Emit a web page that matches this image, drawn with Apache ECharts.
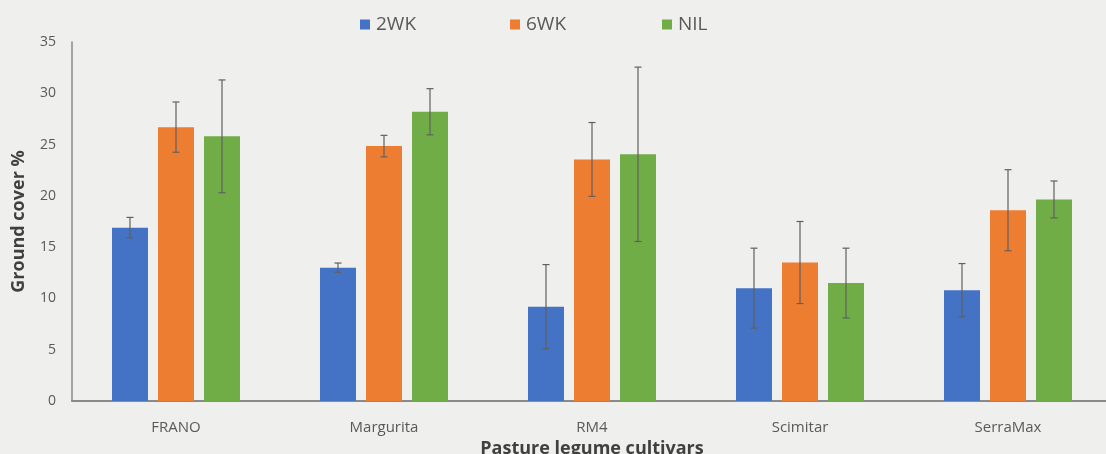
<!DOCTYPE html>
<html>
<head>
<meta charset="utf-8">
<script src="https://cdn.jsdelivr.net/npm/echarts@6/dist/echarts.min.js"></script>
<style>
html,body{margin:0;padding:0;background:#efefed;}
#chart{width:1106px;height:454px;}
</style>
</head>
<body>
<div id="chart"></div>
<script>
const categories = ['FRANO', 'Margurita', 'RM4', 'Scimitar', 'SerraMax'];
const seriesNames = ['2WK', '6WK', 'NIL'];
const wk2 = [16.9, 13.0, 9.2, 11.0, 10.8];
const wk2Err = [1.0, 0.45, 4.1, 3.9, 2.6];
const wk6 = [26.7, 24.85, 23.55, 13.5, 18.6];
const wk6Err = [2.45, 1.05, 3.6, 4.0, 3.95];
const nil = [25.8, 28.2, 24.05, 11.5, 19.65];
const nilErr = [5.5, 2.25, 8.5, 3.4, 1.8];
const yTicks = [0, 5, 10, 15, 20, 25, 30, 35];

const colors = ['#4472C4', '#ED7D31', '#70AD47'];
const values = [wk2, wk6, nil];
const errs = [wk2Err, wk6Err, nilErr];
const FONT = "'Open Sans', 'Noto Sans', sans-serif";
const BAR_W = 36, BAR_GAP = 10;

const chart = echarts.init(document.getElementById('chart'));

const barSeries = seriesNames.map((name, i) => ({
  name: name,
  type: 'bar',
  data: values[i],
  barWidth: BAR_W,
  barGap: (BAR_GAP / BAR_W * 100) + '%',
  itemStyle: { color: colors[i] },
  z: 2
}));

const errSeries = seriesNames.map((name, i) => ({
  name: name + ' err',
  type: 'custom',
  z: 5,
  silent: true,
  data: values[i].map((v, k) => [k, v, errs[i][k]]),
  renderItem: function (params, api) {
    const idx = api.value(0), v = api.value(1), e = api.value(2);
    const hi = api.coord([idx, v + e]);
    const lo = api.coord([idx, v - e]);
    const cx = hi[0] + (i - 1) * (BAR_W + BAR_GAP);
    const cap = 3.5;
    const st = { stroke: '#606060', lineWidth: 1.2 };
    return {
      type: 'group',
      children: [
        { type: 'line', shape: { x1: cx, y1: hi[1], x2: cx, y2: lo[1] }, style: st },
        { type: 'line', shape: { x1: cx - cap, y1: hi[1], x2: cx + cap, y2: hi[1] }, style: st },
        { type: 'line', shape: { x1: cx - cap, y1: lo[1], x2: cx + cap, y2: lo[1] }, style: st }
      ]
    };
  },
  encode: { x: 0, y: 1 }
}));

const legendLefts = [355, 505, 657];
const option = {
  backgroundColor: '#efefed',
  animation: false,
  textStyle: { fontFamily: FONT },
  legend: seriesNames.map((n, i) => ({
    data: [n],
    left: legendLefts[i],
    top: 10,
    itemWidth: 10,
    itemHeight: 10,
    itemGap: 6,
    icon: 'rect',
    textStyle: { fontSize: 19, color: '#595959', fontFamily: FONT, padding: [0, 0, 0, 1] }
  })),
  grid: { left: 72, top: 42, width: 1040, height: 359, containLabel: false, outerBoundsMode: 'none' },
  xAxis: {
    type: 'category',
    data: categories,
    name: 'Pasture legume cultivars',
    nameLocation: 'middle',
    nameGap: 39,
    nameTextStyle: { fontSize: 18, fontWeight: 'bold', color: '#404040', fontFamily: FONT },
    axisLine: { show: true, lineStyle: { color: '#8a8a8a', width: 2 } },
    axisTick: { show: false },
    axisLabel: { fontSize: 15, color: '#595959', margin: 19, fontFamily: FONT }
  },
  yAxis: {
    type: 'value',
    min: yTicks[0],
    max: yTicks[yTicks.length - 1],
    interval: 5,
    name: 'Ground cover %',
    nameLocation: 'middle',
    nameGap: 44,
    nameTextStyle: { fontSize: 18, fontWeight: 'bold', color: '#404040', fontFamily: FONT },
    axisLine: { show: true, lineStyle: { color: '#8a8a8a', width: 1.5 } },
    axisTick: { show: false },
    splitLine: { show: false },
    axisLabel: { fontSize: 14, color: '#595959', margin: 16, fontFamily: FONT }
  },
  series: barSeries.concat(errSeries)
};
chart.setOption(option);
</script>
</body>
</html>
